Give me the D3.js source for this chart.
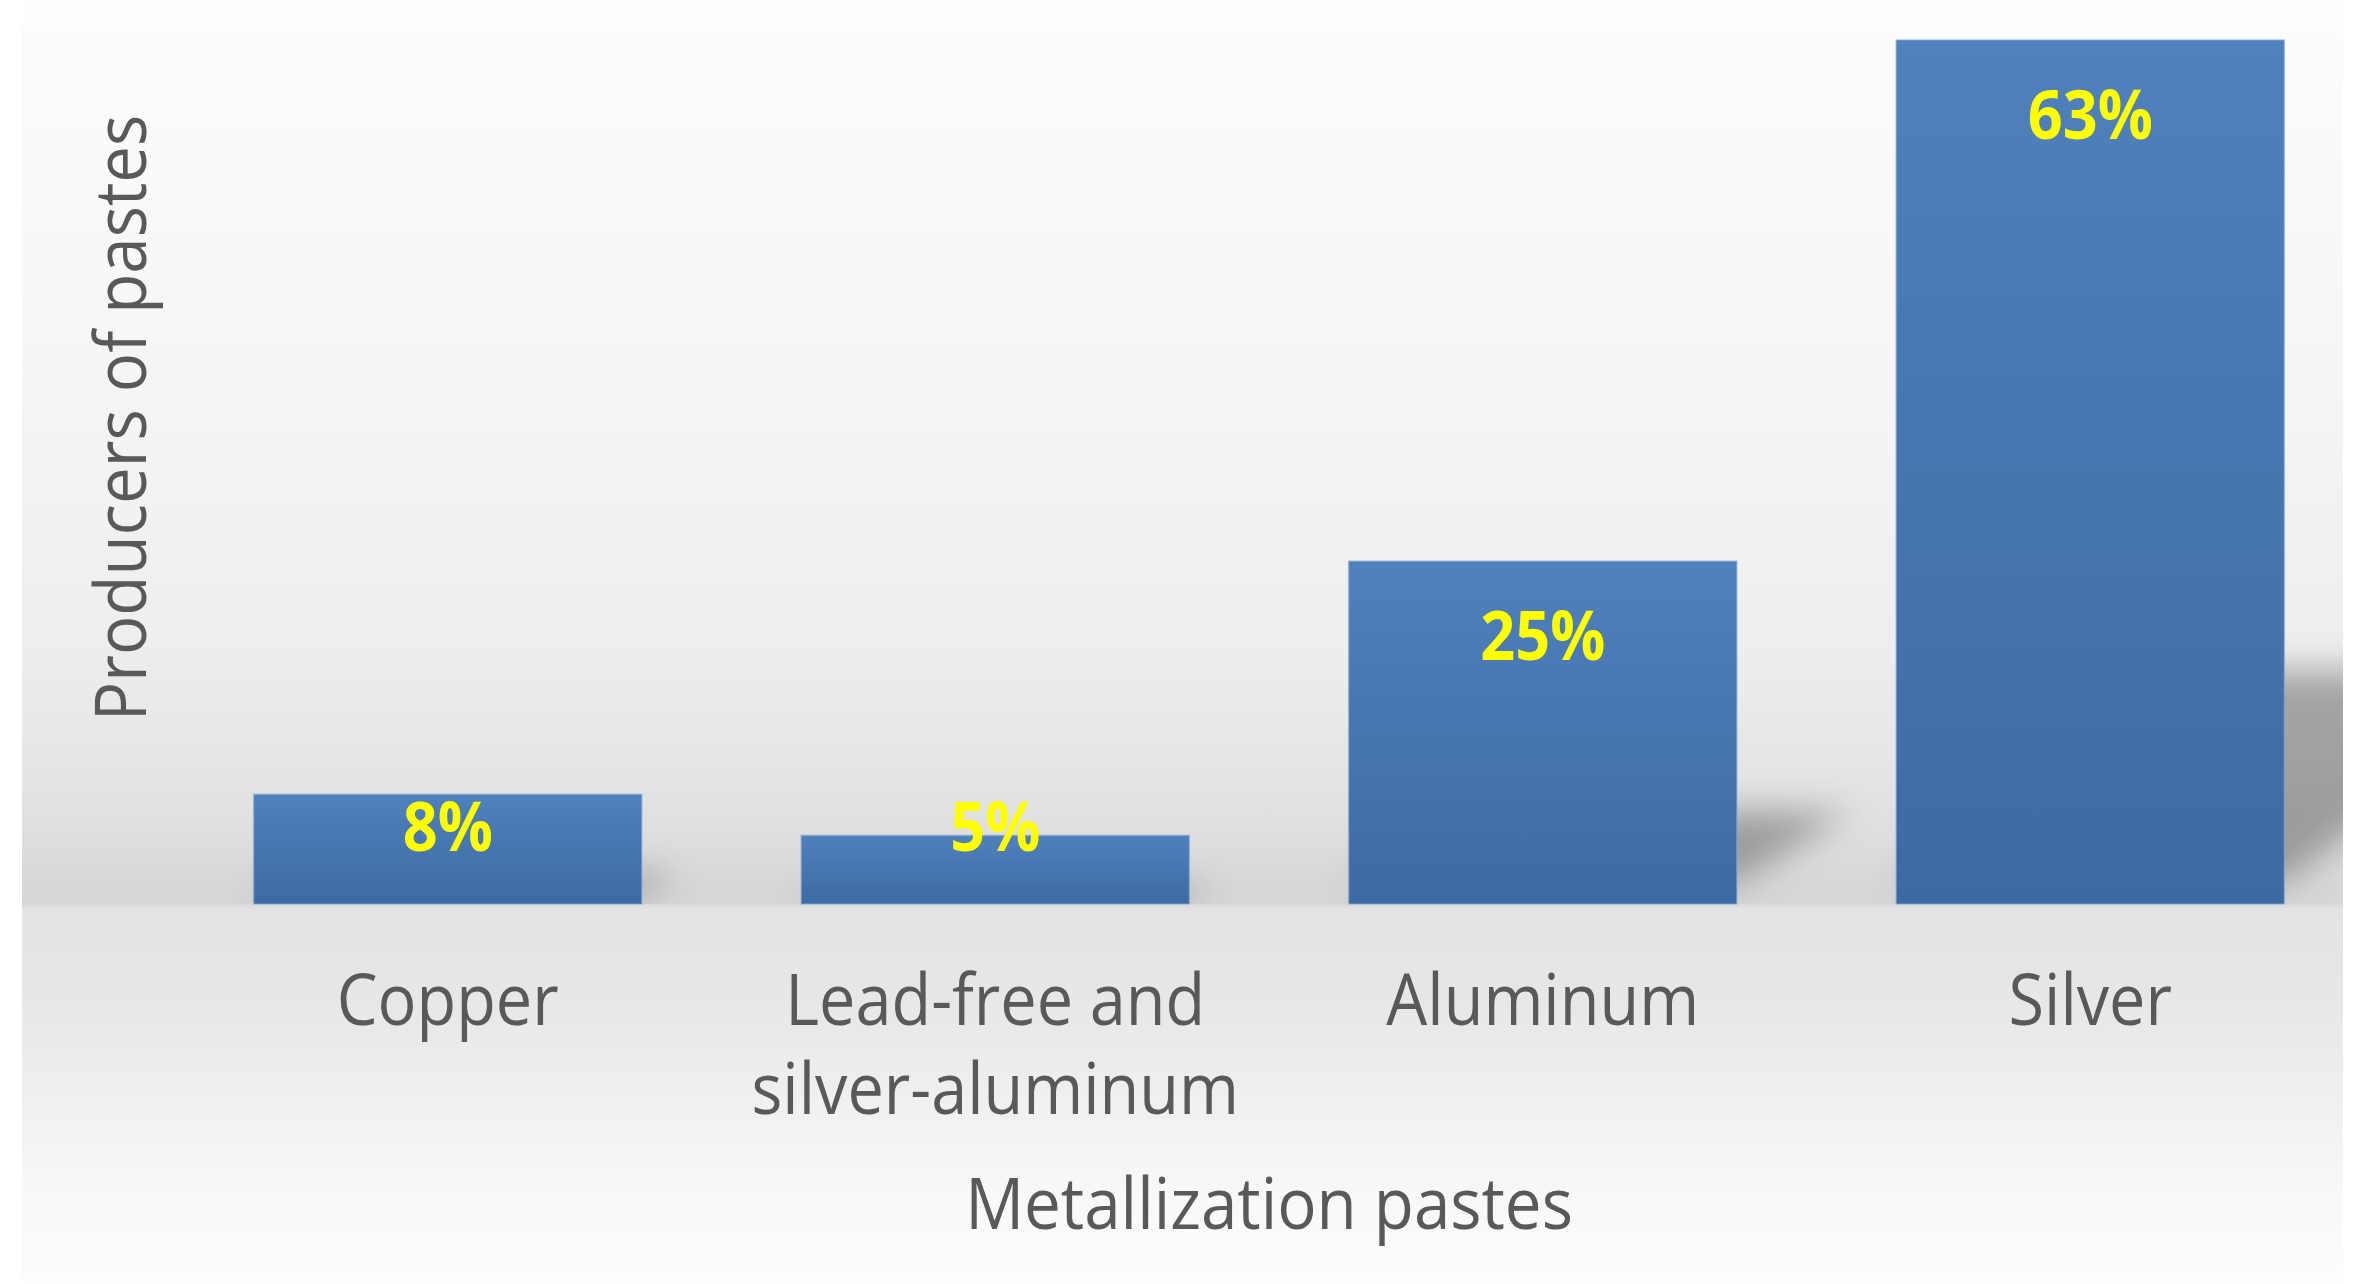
<!DOCTYPE html>
<html>
<head>
<meta charset="utf-8">
<script src="https://cdn.jsdelivr.net/npm/d3@7/dist/d3.min.js"></script>
<style>
  body { margin: 0; background: #ffffff; }
  svg { display: block; }
</style>
</head>
<body>
<div id="container"></div>
<script>
// Data ---------- ---------- ----------
let categories = ["Copper", "Lead-free and silver-aluminum", "Aluminum", "Silver"];
let shares = [8, 5, 25, 63];
let shareLabels = ["8%", "5%", "25%", "63%"];
let xTitle = "Metallization pastes", yTitle = "Producers of pastes";

// Hard code values ---------- ---------- ----------
let canvasW = 2370, canvasH = 1284;
let panelX0 = 22, panelX1 = 2343;
let baseY = 904, topY = 40;
let font = "'Open Sans', 'Noto Sans', sans-serif";
let grey = "#595959", yellow = "#FFFF00";
let squeeze = 0.9; // narrow the glyphs, the original uses a condensed face

let svg = d3.select("#container").append("svg").attr("width", canvasW).attr("height", canvasH);
let defs = svg.append("defs");

// background: light panel with a darker "floor" band at the bar bottoms
let bg = defs.append("linearGradient").attr("id", "bgGrad").attr("x1", 0).attr("y1", 0).attr("x2", 0).attr("y2", 1);
[[0, "#fefefe"], [0.03, "#fcfcfc"], [0.3, "#f5f5f5"], [0.5, "#eeeeee"], [0.6, "#e5e5e5"],
 [0.66, "#dddddd"], [0.69, "#d7d7d7"], [0.703, "#d6d6d6"], [0.708, "#e3e3e3"], [0.78, "#e7e7e7"],
 [0.86, "#f0f0f0"], [0.93, "#f8f8f8"], [1, "#fdfdfd"]]
  .forEach(s => bg.append("stop").attr("offset", s[0]).attr("stop-color", s[1]));

let barGrad = defs.append("linearGradient").attr("id", "barGrad").attr("x1", 0).attr("y1", 0).attr("x2", 0).attr("y2", 1);
barGrad.append("stop").attr("offset", 0).attr("stop-color", "#4f81bd");
barGrad.append("stop").attr("offset", 1).attr("stop-color", "#3d6aa3");

// blur region in page units so small shadows are not cut off
defs.append("filter").attr("id", "blur").attr("filterUnits", "userSpaceOnUse")
  .attr("x", 0).attr("y", 0).attr("width", canvasW).attr("height", canvasH)
  .append("feGaussianBlur").attr("stdDeviation", 17);
defs.append("clipPath").attr("id", "panelClip").append("rect")
  .attr("x", panelX0).attr("y", 0).attr("width", panelX1 - panelX0).attr("height", baseY);

svg.append("rect").attr("x", panelX0).attr("y", 0).attr("width", panelX1 - panelX0).attr("height", canvasH)
  .attr("fill", "url(#bgGrad)");

// Scales
let x = d3.scaleBand().domain(categories).range([174, 2364]).paddingInner(0.291).paddingOuter(0.1455);
let y = d3.scaleLinear().domain([0, d3.max(shares)]).range([baseY, topY]);
let rows = categories.map((c, i) => ({cat: c, v: shares[i], lab: shareLabels[i]}));

// perspective shadows behind the bars
svg.append("g").attr("clip-path", "url(#panelClip)")
  .selectAll("path").data(rows).enter().append("path")
  .attr("d", d => {
    let x0 = x(d.cat), x1 = x0 + x.bandwidth(), h = y(0) - y(d.v);
    let dx = h * 0.33, dy = h * 0.27, lift = Math.min(22, h * 0.08);
    return d3.line()([[x0, y(0) - lift], [x1, y(0) - lift], [x1 + dx, y(0) - dy], [x0 + dx, y(0) - dy]]) + "Z";
  })
  .attr("fill", "#000").attr("fill-opacity", 0.3).attr("filter", "url(#blur)");

// bars
svg.append("g").selectAll("rect").data(rows).enter().append("rect")
  .attr("x", d => x(d.cat)).attr("y", d => y(d.v))
  .attr("width", x.bandwidth()).attr("height", d => y(0) - y(d.v))
  .attr("fill", "url(#barGrad)").attr("stroke", "#86a8d4").attr("stroke-opacity", 0.6).attr("stroke-width", 1.5);

// value labels, inside end, but kept above the floor for short bars
svg.append("g").selectAll("text").data(rows).enter().append("text")
  .attr("transform", d => "translate(" + (x(d.cat) + x.bandwidth() / 2) + "," + Math.min(y(d.v) + 99, y(0) - 53) + ") scale(" + squeeze + ",1)")
  .attr("text-anchor", "middle").attr("font-family", font).attr("font-weight", 700)
  .attr("font-size", 68).attr("fill", yellow).text(d => d.lab);

// X axis (category names)
let xAxis = svg.append("g").attr("transform", "translate(0," + baseY + ")")
  .call(d3.axisBottom(x).tickSize(0).tickPadding(0));
xAxis.select(".domain").remove();
xAxis.attr("font-family", font).attr("font-size", 72);
xAxis.selectAll(".tick text").attr("fill", grey).attr("dy", null).attr("y", 121)
  .attr("transform", "scale(" + squeeze + ",1)")
  .call(wrap, x.step() * 0.97);

function wrap(texts, width) {
  texts.each(function() {
    let t = d3.select(this), words = t.text().split(/\s+/), line = [], lineNo = 0;
    t.text(null);
    let tspan = t.append("tspan").attr("x", 0).attr("y", 121);
    words.forEach(w => {
      line.push(w);
      tspan.text(line.join(" "));
      if (tspan.node().getComputedTextLength() * squeeze > width && line.length > 1) {
        line.pop(); tspan.text(line.join(" "));
        line = [w]; lineNo++;
        tspan = t.append("tspan").attr("x", 0).attr("y", 121 + lineNo * 89).text(w);
      }
    });
  });
}

// Axis titles
svg.append("text")
  .attr("transform", "translate(" + d3.mean(x.range()) + ",1229) scale(" + (squeeze + 0.01) + ",1)")
  .attr("text-anchor", "middle").attr("font-family", font).attr("font-size", 72).attr("fill", grey)
  .text(xTitle);
svg.append("text")
  .attr("transform", "translate(146,418) rotate(-90) scale(" + (squeeze + 0.01) + ",1)")
  .attr("text-anchor", "middle").attr("font-family", font).attr("font-size", 72).attr("fill", grey)
  .text(yTitle);
</script>
</body>
</html>
